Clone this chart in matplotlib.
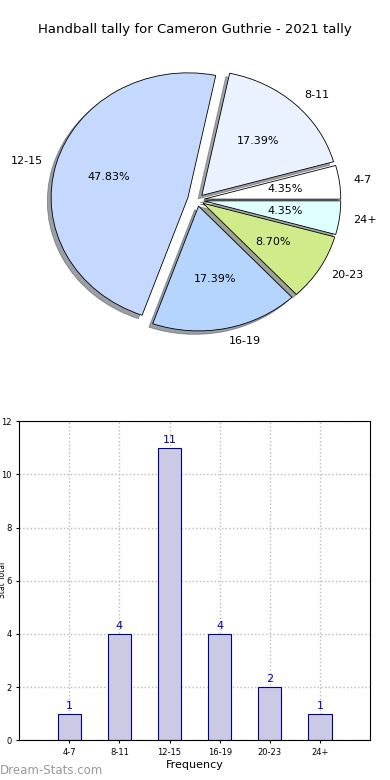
import matplotlib
matplotlib.use("Agg")
import matplotlib.pyplot as plt

# data
categories = ["4-7", "8-11", "12-15", "16-19", "20-23", "24+"]
counts = [1, 4, 11, 4, 2, 1]
pie_colors = ["#ffffff", "#eaf1ff", "#c5d9ff", "#b5d5ff", "#d0ec8a", "#dfffff"]
explode = [0.05, 0.05, 0.07, 0.05, 0.05, 0.05]

title = "Handball tally for Cameron Guthrie - 2021 tally"

fig = plt.figure(figsize=(3.9, 7.8), dpi=100)

# pie on top
ax1 = fig.add_axes([0.067, 0.5436, 0.877, 0.40])
wedges, texts, autotexts = ax1.pie(
    counts, labels=categories, colors=pie_colors, explode=explode,
    autopct="%1.2f%%", shadow=True, startangle=0,
    wedgeprops=dict(edgecolor="black", linewidth=0.6),
    textprops=dict(fontsize=8),
)
ax1.set_aspect("auto")
ax1.set_xlim(-1.25, 1.25)
ax1.set_ylim(-1.25, 1.25)
fig.text(0.5, 1 - 30 / 780, title, ha="center", va="center", fontsize=9.5)

# bars below
ax2 = fig.add_axes([0.049, 0.051, 0.90, 0.409])
x = list(range(len(categories)))
bars = ax2.bar(x, counts, width=0.46, color="#cacae4", edgecolor="#00008b",
               linewidth=0.8, zorder=2)
for xi, c in zip(x, counts):
    ax2.text(xi, c + 0.1, str(c), ha="center", va="bottom", fontsize=8,
             color="#0000aa", zorder=3)
ax2.set_xlim(-1, 6)
ax2.set_ylim(0, 12)
ax2.set_xticks(x)
ax2.set_xticklabels(categories, fontsize=6)
ax2.set_yticks(range(0, 13, 2))
ax2.tick_params(axis="y", labelsize=6)
ax2.tick_params(length=2)
ax2.grid(True, linestyle=":", color="#bbbbbb", linewidth=1, zorder=0)
ax2.set_axisbelow(True)
ax2.set_xlabel("Frequency", fontsize=8, labelpad=2)
fig.text(3 / 390, 1 - 580 / 780, "Stat Total", rotation=90, fontsize=5.5,
         ha="center", va="center")

fig.text(0.0, 1 - 770 / 780, "Dream-Stats.com", fontsize=8.5, color="#999999",
         ha="left", va="center")

fig.savefig("out.png", dpi=100)
